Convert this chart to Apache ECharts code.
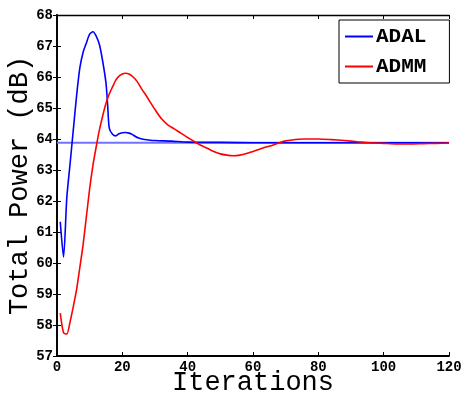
<!DOCTYPE html>
<html>
<head>
<meta charset="utf-8">
<script src="https://cdn.jsdelivr.net/npm/echarts@6/dist/echarts.min.js"></script>
<style>
  html, body { margin: 0; padding: 0; background: #fff; }
  #chart { width: 462px; height: 397px; }
</style>
</head>
<body>
<div id="chart"></div>
<script>
// values
const adalIter = [1, 2, 3, 4, 5, 6, 7, 8, 9, 10, 11, 12, 13, 14, 15, 15.5, 16, 17, 18, 19, 20, 21, 22, 23, 24, 25, 26, 28, 30, 35, 40, 50, 60, 80, 100, 120]
const adalPower = [61.33, 60.19, 62.1, 63.2, 64.3, 65.4, 66.3, 66.8, 67.1, 67.38, 67.46, 67.32, 67.04, 66.5, 65.8, 65.1, 64.35, 64.15, 64.1, 64.17, 64.2, 64.21, 64.19, 64.15, 64.08, 64.03, 64.0, 63.97, 63.95, 63.93, 63.9, 63.89, 63.88, 63.88, 63.88, 63.88]

const admmIter = [1, 2, 3, 4, 5, 6, 7, 8, 9, 10, 11, 12, 13, 14, 15, 16, 17, 18, 19, 20, 21, 22, 23, 24, 25, 26, 27, 28, 30, 32, 34, 36, 38, 40, 42, 44, 46, 48, 50, 52, 54, 56, 58, 60, 62, 64, 66, 68, 70, 72, 74, 76, 78, 80, 84, 88, 92, 96, 100, 104, 108, 112, 116, 120]
const admmPower = [58.38, 57.75, 57.71, 58.1, 58.6, 59.15, 59.86, 60.6, 61.5, 62.4, 63.15, 63.75, 64.3, 64.75, 65.15, 65.45, 65.68, 65.9, 66.03, 66.1, 66.12, 66.1, 66.03, 65.93, 65.78, 65.6, 65.45, 65.28, 64.95, 64.65, 64.45, 64.32, 64.18, 64.05, 63.92, 63.8, 63.7, 63.6, 63.52, 63.48, 63.46, 63.48, 63.53, 63.6, 63.67, 63.74, 63.8, 63.88, 63.94, 63.97, 63.99, 64.0, 64.0, 64.0, 63.98, 63.95, 63.91, 63.88, 63.86, 63.84, 63.84, 63.85, 63.86, 63.87]

const refLevel = 63.88
const refSpan = [0, 120]

const seriesNames = ['ADAL', 'ADMM']

const zip = (xs, ys) => xs.map((x, i) => [x, ys[i]])

const mono = 'Liberation Mono'
const axisLine = { show: true, lineStyle: { color: '#000', width: 1.8 } }
const tick = { show: true, inside: true, length: 4, lineStyle: { color: '#000', width: 1 } }

const chart = echarts.init(document.getElementById('chart'))

chart.setOption({
  animation: false,
  grid: { left: 57, right: 13, top: 15, bottom: 41, containLabel: false, outerBoundsMode: 'none' },
  legend: {
    data: seriesNames,
    orient: 'vertical',
    left: 339,
    top: 20,
    padding: [6, 23, 6, 6],
    itemGap: 9,
    itemWidth: 28,
    itemHeight: 2,
    icon: 'rect',
    borderColor: '#000',
    borderWidth: 1,
    backgroundColor: '#fff',
    textStyle: { fontFamily: mono, fontWeight: 'bold', fontSize: 21, color: '#000', padding: [0, 0, 0, -2] }
  },
  xAxis: [{
    type: 'value',
    min: 0, max: 120, interval: 20,
    name: 'Iterations',
    nameLocation: 'middle',
    nameGap: 13,
    nameMoveOverlap: false,
    nameTextStyle: { fontFamily: mono, fontSize: 27, color: '#000', verticalAlign: 'top' },
    axisLine, axisTick: tick,
    splitLine: { show: false },
    axisLabel: { fontFamily: mono, fontWeight: 'bold', fontSize: 14, color: '#000', margin: 4 }
  }, {
    type: 'value', position: 'top',
    min: 0, max: 120, interval: 20,
    axisLine: { show: true, lineStyle: { color: '#000', width: 1.3 } }, axisTick: tick,
    splitLine: { show: false }, axisLabel: { show: false }
  }],
  yAxis: [{
    type: 'value',
    min: 57, max: 68, interval: 1,
    name: 'Total Power (dB)',
    nameLocation: 'middle',
    nameGap: 24,
    nameMoveOverlap: false,
    nameTextStyle: { fontFamily: mono, fontSize: 27, color: '#000' },
    axisLine, axisTick: tick,
    splitLine: { show: false },
    axisLabel: { fontFamily: mono, fontWeight: 'bold', fontSize: 14, color: '#000', margin: 4 }
  }, {
    type: 'value', position: 'right',
    min: 57, max: 68, interval: 1,
    axisLine: { show: true, lineStyle: { color: '#000', width: 1.5 } }, axisTick: tick,
    splitLine: { show: false }, axisLabel: { show: false }
  }],
  series: [
    {
      name: 'reference',
      type: 'line',
      data: refSpan.map(x => [x, refLevel]),
      showSymbol: false,
      symbol: 'none',
      lineStyle: { color: '#7272ff', width: 2 },
      z: 1
    },
    {
      name: 'ADAL',
      type: 'line',
      data: zip(adalIter, adalPower),
      symbol: 'none',
      smooth: 0.25,
      itemStyle: { color: '#0000ff' },
      lineStyle: { color: '#0000ff', width: 1.6 },
      z: 2
    },
    {
      name: 'ADMM',
      type: 'line',
      data: zip(admmIter, admmPower),
      symbol: 'none',
      smooth: 0.25,
      itemStyle: { color: '#ff0000' },
      lineStyle: { color: '#ff0000', width: 1.6 },
      z: 3
    }
  ]
})
</script>
</body>
</html>
